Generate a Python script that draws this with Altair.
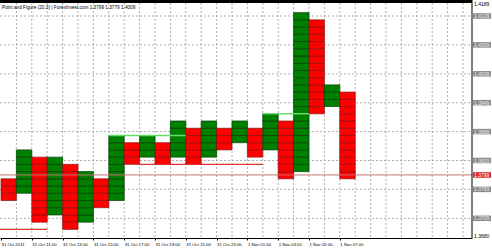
import json
import altair as alt
import pandas as pd

# ---------------- data ----------------
box = 0.0015
col_low = [1.3746, 1.3761, 1.3701, 1.3716, 1.3686, 1.3701, 1.3731, 1.3746, 1.3821, 1.3836,
           1.3821, 1.3836, 1.3821, 1.3836, 1.3851, 1.3866, 1.3836, 1.3851, 1.3791, 1.3806,
           1.3926, 1.3941, 1.3791]
col_high = [1.3791, 1.3851, 1.3836, 1.3836, 1.3821, 1.3806, 1.3791, 1.3881, 1.3866, 1.3881,
            1.3866, 1.3911, 1.3896, 1.3911, 1.3896, 1.3911, 1.3896, 1.3926, 1.3911, 1.4136,
            1.4121, 1.3986, 1.3971]
col_dir = ["O", "X"] * 11 + ["O"]

time_labels = ["31 Oct 2011", "31 Oct 11:00", "31 Oct 13:00", "31 Oct 15:00", "31 Oct 17:00",
               "31 Oct 19:00", "31 Oct 21:00", "31 Oct 23:00", "1 Nov 01:00", "1 Nov 03:00",
               "1 Nov 05:00", "1 Nov 07:00"]
time_label_cols = [0, 2, 4, 6, 8, 10, 12, 14, 16, 18, 20, 22]

grid_prices = [1.4129, 1.4069, 1.4009, 1.3949, 1.3889, 1.3829, 1.3769, 1.3709]
grid_labels = ["1.4129", "1.4069", "1.4009", "1.3949", "1.3889", "1.3829", "1.3769", "1.3709"]
last_price = 1.3799
last_label = "1.3799"
range_hi_label = "1.4189"
range_lo_label = "1.3680"
title_text = "Point and Figure (20,3) | ForexInvest.com 1.3799 1.3779 1.4009"

# trend lines: start column, end column, price
green_start = [7, 17]
green_end = [12, 20]
green_price = [1.3881, 1.3926]
red_start = [-0.07, 9]
red_end = [3, 17]
red_price = [1.3686, 1.3821]

# ---------------- build tables ----------------
rows = []
for i, (lo, hi, d) in enumerate(zip(col_low, col_high, col_dir)):
    n = int(round((hi - lo) / box))
    for k in range(n):
        rows.append({"c": i, "c2": i + 1, "lo": lo + k * box, "hi": lo + (k + 1) * box, "dir": d})
boxes_df = pd.DataFrame(rows)

W, H = 472, 238
col_px = 15.4
xdom = [-1 / col_px, (W - 1) / col_px]
s = 0.0060 / 28.9
ydom = [1.4129 - (H - 16) * s, 1.4129 + 16 * s]
xs = alt.Scale(domain=xdom, nice=False, zero=False)
ys = alt.Scale(domain=ydom, nice=False, zero=False)

FONT = "Liberation Sans, Arial, sans-serif"

xaxis = alt.Axis(values=time_label_cols, labelExpr=json.dumps(time_labels) + "[datum.value/2]",
                 grid=False, domainColor="black", domainWidth=1, tickColor="black", tickSize=2,
                 labelAlign="left", labelBaseline="top", labelFontSize=4.3, labelFont=FONT,
                 labelPadding=2, labelColor="black", labelFlush=False, labelOverlap=False,
                 title=None)

grid_df = pd.DataFrame({"p": grid_prices, "t": grid_labels})
hgrid = alt.Chart(grid_df).mark_rule(color="#9a9a9a", strokeDash=[2, 2], strokeWidth=0.8).encode(
    y=alt.Y("p:Q", scale=ys, axis=None), x=alt.value(0), x2=alt.value(W))

vgrid_df = pd.DataFrame({"c": list(range(1, 31))})
vgrid = alt.Chart(vgrid_df).mark_rule(color="#9a9a9a", strokeDash=[2, 2], strokeWidth=0.8).encode(
    x=alt.X("c:Q", scale=xs, axis=xaxis), y=alt.value(3), y2=alt.value(H))

boxes = alt.Chart(boxes_df).mark_rect(strokeWidth=0.7).encode(
    x=alt.X("c:Q", scale=xs, axis=xaxis), x2="c2:Q",
    y=alt.Y("lo:Q", scale=ys, axis=None), y2="hi:Q",
    fill=alt.Fill("dir:N", scale=alt.Scale(domain=["X", "O"], range=["#008000", "#ff0000"]), legend=None),
    stroke=alt.Stroke("dir:N", scale=alt.Scale(domain=["X", "O"], range=["#003c00", "#8a1010"]), legend=None),
)

gl_df = pd.DataFrame({"a": green_start, "b": green_end, "p": green_price})
glines = alt.Chart(gl_df).mark_rule(color="#66dd66", strokeWidth=1.5).encode(
    x=alt.X("a:Q", scale=xs, axis=xaxis), x2="b:Q", y=alt.Y("p:Q", scale=ys, axis=None))

rl_df = pd.DataFrame({"a": red_start, "b": red_end, "p": red_price})
rlines = alt.Chart(rl_df).mark_rule(color="#e03030", strokeWidth=1.2).encode(
    x=alt.X("a:Q", scale=xs, axis=xaxis), x2="b:Q", y=alt.Y("p:Q", scale=ys, axis=None))

last_df = pd.DataFrame({"p": [last_price], "t": [last_label]})
lastline = alt.Chart(last_df).mark_rule(color="#c87070", strokeWidth=1).encode(
    y=alt.Y("p:Q", scale=ys, axis=None), x=alt.value(0), x2=alt.value(W))

lab_bg = alt.Chart(grid_df).mark_rule(color="#8a8a8a", strokeWidth=5.5, strokeCap="butt").encode(
    y=alt.Y("p:Q", scale=ys, axis=None), x=alt.value(W + 1), x2=alt.value(W + 19))
lab_tx = alt.Chart(grid_df).mark_text(align="left", baseline="middle", fontSize=5, font=FONT,
                                      color="#eeeeee").encode(
    y=alt.Y("p:Q", scale=ys, axis=None), x=alt.value(W + 2), text="t:N")

last_bg = alt.Chart(last_df).mark_rule(color="#e02020", strokeWidth=5.5, strokeCap="butt").encode(
    y=alt.Y("p:Q", scale=ys, axis=None), x=alt.value(W + 1), x2=alt.value(W + 19))
last_tx = alt.Chart(last_df).mark_text(align="left", baseline="middle", fontSize=5, font=FONT,
                                       color="white").encode(
    y=alt.Y("p:Q", scale=ys, axis=None), x=alt.value(W + 2), text="t:N")

rng_df = pd.DataFrame({"t": [range_hi_label, range_lo_label], "yy": [4, H - 2]})
rng_tx = alt.Chart(rng_df).mark_text(align="left", baseline="middle", fontSize=5, font=FONT,
                                     color="black").encode(
    y=alt.Y("yy:Q", scale=None, axis=None), x=alt.value(W + 2), text="t:N")

title_df = pd.DataFrame({"t": [title_text]})
title = alt.Chart(title_df).mark_text(align="left", baseline="middle", fontSize=4.7, font=FONT,
                                      color="black").encode(
    x=alt.value(2), y=alt.value(8), text="t:N")

topbar = alt.Chart(title_df).mark_rect(color="black").encode(
    x=alt.value(0), x2=alt.value(W), y=alt.value(0), y2=alt.value(3))
rborder = alt.Chart(title_df).mark_rule(color="black", strokeWidth=1).encode(
    x=alt.value(W), y=alt.value(0), y2=alt.value(H))

chart = alt.layer(
    hgrid, vgrid, boxes, glines, rlines, lastline, lab_bg, lab_tx, last_bg, last_tx,
    rng_tx, title, topbar, rborder
).properties(
    width=W, height=H,
    autosize=alt.AutoSizeParams(type="none"),
    padding={"left": 0, "top": 0, "right": 20, "bottom": 12},
    background="white",
).configure_view(strokeWidth=0)

chart.save("out.html", embed_options={"renderer": "svg", "actions": False})
